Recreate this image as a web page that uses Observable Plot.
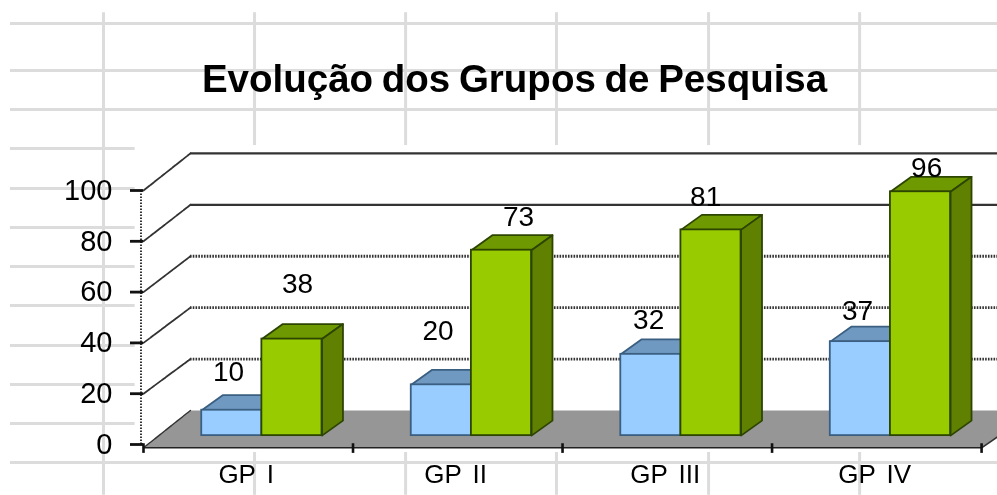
<!DOCTYPE html>
<html><head><meta charset="utf-8">
<script src="https://cdn.jsdelivr.net/npm/d3@7"></script>
<script src="https://cdn.jsdelivr.net/npm/@observablehq/plot@0.6"></script>
<style>
html,body{margin:0;padding:0;background:#fff}
svg{display:block;filter:blur(.45px)}
</style></head><body><div id="chart"></div>
<script>
const titleText = "Evolução dos Grupos de Pesquisa";
const categories = ["GP I", "GP II", "GP III", "GP IV"];
const blueValues = [10, 20, 32, 37];
const greenValues = [38, 73, 81, 96];
const yTicks = [0, 20, 40, 60, 80, 100];

// Label placement relative to each bar, in axis units (the reference places them unevenly)
const blueLift = [15, 21.3, 13.4, 12.2];
const greenLift = [21.7, 13, 13, 9.3];
const blueShift = [0.406, 0.406, 0.411, 0.408];
const greenShift = [0.735, 0.79, 0.683, 0.738];

// Spreadsheet cell lines behind the chart, in axis units
const sheetRowsFull = [165.7, 147.2, 131.9, -7.1];
const sheetRowsLeft = [116.5, 100.8, 85.4, 70.1, 54.7, 39, 23.6, 8.3];
const sheetCols = [0.53, 1.251, 1.971, 2.697, 3.418];
const sheetColFull = -0.191;

// Projection of the 3-D depth, in axis units
const wallDx = 0.224;
const back = v => v * 1.012 + 13.4;
const barBase = 3.5, barDx = 0.1, barDy = 5.9;
const slots = [[0.278, 0.565], [0.565, 0.852]];
const axisLow = -1.3;
const xEnd = 4.076;

const faces = [];
const face = (pts, fill, stroke) => faces.push(Plot.line(pts, {x: "x", y: "y", fill, stroke, strokeWidth: 1.8, strokeLinejoin: "round", curve: "linear-closed"}));
function drawBar(i, v, slot, cFront, cTop, cSide, cStroke, withSide) {
  const x0 = i + slot[0], x1 = i + slot[1], y0 = barBase, y1 = v + barBase;
  face([{x:x0,y:y1},{x:x1,y:y1},{x:x1+barDx,y:y1+barDy},{x:x0+barDx,y:y1+barDy}], cTop, cStroke);
  if (withSide) face([{x:x1,y:y0},{x:x1+barDx,y:y0+barDy},{x:x1+barDx,y:y1+barDy},{x:x1,y:y1}], cSide, cStroke);
  faces.push(Plot.rect([{x0,x1,y0,y1}], {x1:"x0", x2:"x1", y1:"y0", y2:"y1", fill:cFront, stroke:cStroke, strokeWidth:1.8}));
}
categories.forEach((c, i) => {
  drawBar(i, blueValues[i], slots[0], "#99ccff", "#7099c2", "#5f86ab", "#3a5f80", false);
  drawBar(i, greenValues[i], slots[1], "#99cc00", "#6f9900", "#5f8000", "#2c4500", true);
});

const wallStyle = v => v >= 80
  ? {stroke:"#333", strokeWidth:2.2}
  : {stroke:"#333", strokeWidth:2.8, strokeDasharray:"1.6,1.2"};

const chart = Plot.plot({
  width: 997, height: 495,
  marginLeft: 143, marginRight: 0, marginTop: 0, marginBottom: 51,
  style: {background: "#fff", fontFamily: "'Liberation Sans', Arial, sans-serif", color: "#000"},
  x: {domain: [0, xEnd], range: [143, 997], axis: null},
  y: {domain: [0, 100], range: [444, 190], axis: null},
  marks: [
    Plot.ruleY(sheetRowsFull, {x1: -0.635, x2: xEnd, stroke: "#dcdcdc", strokeWidth: 3}),
    Plot.ruleY(sheetRowsLeft, {x1: -0.635, x2: -0.04, stroke: "#dcdcdc", strokeWidth: 3}),
    Plot.ruleX(sheetCols, {y1: 170, y2: 117.7, stroke: "#dcdcdc", strokeWidth: 3}),
    Plot.ruleX(sheetCols, {y1: -3.15, y2: -20, stroke: "#dcdcdc", strokeWidth: 3}),
    Plot.ruleX([sheetColFull], {y1: 170, y2: -20, stroke: "#dcdcdc", strokeWidth: 3}),

    // left wall and back wall
    Plot.ruleX([-0.012], {y1: 0, y2: 100, stroke: "#333", strokeWidth: 2, strokeDasharray: "1.5,1.5"}),
    ...yTicks.filter(v => v > 0).flatMap(v => [
      Plot.line([{x:0,y:v},{x:wallDx,y:back(v)}], {x:"x", y:"y", stroke:"#333", strokeWidth:1.8, strokeDasharray:"8,1,4,1"}),
      Plot.ruleY([back(v)], {x1: wallDx, x2: xEnd, ...wallStyle(v)})
    ]),

    // floor
    Plot.line([{x:0,y:axisLow},{x:wallDx,y:back(0)},{x:xEnd,y:back(0)},{x:xEnd,y:3},{x:4,y:axisLow}],
      {x:"x", y:"y", fill:"#969696", stroke:"none", curve:"linear-closed"}),
    Plot.ruleY([axisLow], {x1: 0, x2: 4, stroke: "#222", strokeWidth: 1.6}),
    Plot.line([{x:0,y:axisLow},{x:wallDx,y:back(0)}], {x:"x", y:"y", stroke:"#333", strokeWidth:1.4, strokeDasharray:"8,1,4,1"}),
    Plot.line([{x:4,y:axisLow},{x:xEnd,y:3}], {x:"x", y:"y", stroke:"#333", strokeWidth:1.5}),
    Plot.ruleX([0, 1, 2, 3, 4], {y1: 0.3, y2: -3.5, stroke: "#111", strokeWidth: 2.6}),

    ...faces,

    Plot.axisY({ticks: yTicks, tickSize: 13, tickPadding: 18, fontSize: 29, strokeWidth: 2.8, stroke: "#111", fill:"#000"}),
    Plot.axisX({ticks: [0.49, 1.49, 2.49, 3.49], tickFormat: d => categories[Math.floor(d)], tickSize: 0, tickPadding: 20, fontSize: 26, fill:"#000", wordSpacing: 3, style: "word-spacing:3px"}),

    Plot.text(categories.map((c, i) => ({x: i + blueShift[i], y: blueValues[i] + barBase + blueLift[i], t: String(blueValues[i])})),
      {x:"x", y:"y", text:"t", fontSize: 28, fill:"#000"}),
    Plot.text(categories.map((c, i) => ({x: i + greenShift[i], y: greenValues[i] + barBase + greenLift[i], t: String(greenValues[i])})),
      {x:"x", y:"y", text:"t", fontSize: 28, fill:"#000"}),

    Plot.text([titleText], {x: 1.771, y: 143.5, text: d => d, fontSize: 38.5, fontWeight: "bold", fill:"#000"})
  ]
});
d3.select(chart).selectAll("text").filter(function(){ return /^GP /.test(this.textContent); }).style("word-spacing", "4px");
d3.select(chart).selectAll("text").filter(function(){ return this.textContent === titleText; }).style("word-spacing", "-2px");
document.getElementById("chart").append(chart);
</script></body></html>
